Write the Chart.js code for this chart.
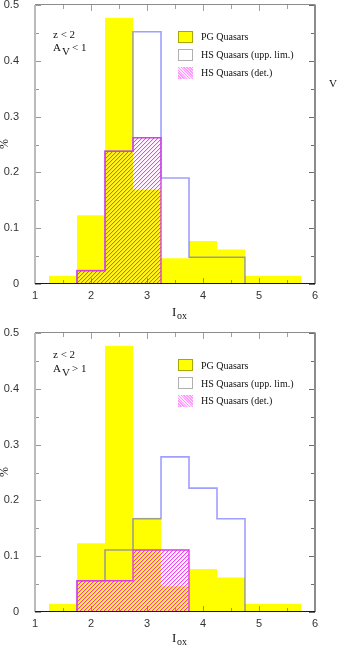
<!DOCTYPE html>
<html>
<head>
<meta charset="utf-8">
<script src="https://cdn.jsdelivr.net/npm/chart.js@4/dist/chart.umd.min.js"></script>
<style>
  html, body { margin:0; padding:0; background:#fff; }
  #page { position:relative; width:339px; height:647px; overflow:hidden; background:#fff; }
  canvas { position:absolute; left:0; }
  .t { position:absolute; font-family:"Liberation Serif", "DejaVu Serif", serif; color:#111; white-space:nowrap; }
  .lg { font-size:10px; line-height:12px; }
  .box { position:absolute; width:15px; height:12px; box-sizing:border-box; }
</style>
</head>
<body>
<div id="page">
  <canvas id="c1" width="339" height="323" style="top:0px"></canvas>
  <canvas id="c2" width="339" height="324" style="top:323px"></canvas>

  <!-- top panel texts -->
  <div class="t" style="left:53px;top:29px;font-size:11px;line-height:11px">z &lt; 2</div>
  <div class="t" style="left:53px;top:42px;font-size:11px;line-height:11px">A</div>
  <div class="t" style="left:62px;top:46px;font-size:11px;line-height:11px">V</div>
  <div class="t" style="left:72px;top:42px;font-size:11px;line-height:11px">&lt; 1</div>
  <div class="box" style="left:178px;top:31px;background:#ffff00;border:1px solid #a8a800"></div>
  <div class="box" style="left:178px;top:49px;background:#fff;border:1px solid #b0b0b0"></div>
  <div class="box" style="left:178px;top:67px;background:repeating-linear-gradient(45deg,#ff99ff 0 1px,#ffe6ff 1px 2px)"></div>
  <div class="t lg" style="left:201px;top:31px">PG Quasars</div>
  <div class="t lg" style="left:201px;top:49px">HS Quasars (upp. lim.)</div>
  <div class="t lg" style="left:201px;top:67px">HS Quasars (det.)</div>
  <div class="t" style="left:329px;top:78px;font-size:11px;line-height:11px">V</div>
  <div class="t" style="left:-1px;top:138px;font-size:12px;line-height:12px;transform:rotate(-90deg)">%</div>
  <div class="t" style="left:172px;top:305px;font-size:13px;line-height:13px">I</div>
  <div class="t" style="left:177px;top:311px;font-size:10px;line-height:10px">ox</div>

  <!-- bottom panel texts -->
  <div class="t" style="left:53px;top:349px;font-size:11px;line-height:11px">z &lt; 2</div>
  <div class="t" style="left:53px;top:363px;font-size:11px;line-height:11px">A</div>
  <div class="t" style="left:62px;top:367px;font-size:11px;line-height:11px">V</div>
  <div class="t" style="left:72px;top:363px;font-size:11px;line-height:11px">&gt; 1</div>
  <div class="box" style="left:178px;top:359px;background:#ffff00;border:1px solid #a8a800"></div>
  <div class="box" style="left:178px;top:377px;background:#fff;border:1px solid #b0b0b0"></div>
  <div class="box" style="left:178px;top:395px;background:repeating-linear-gradient(45deg,#ff99ff 0 1px,#ffe6ff 1px 2px)"></div>
  <div class="t lg" style="left:201px;top:360px">PG Quasars</div>
  <div class="t lg" style="left:201px;top:378px">HS Quasars (upp. lim.)</div>
  <div class="t lg" style="left:201px;top:395px">HS Quasars (det.)</div>
  <div class="t" style="left:-1px;top:466px;font-size:12px;line-height:12px;transform:rotate(-90deg)">%</div>
  <div class="t" style="left:172px;top:631px;font-size:13px;line-height:13px">I</div>
  <div class="t" style="left:177px;top:637px;font-size:10px;line-height:10px">ox</div>
</div>

<script>
// ---------------- data ----------------
const binWidth = 0.5;
const pgCenters = [1.5, 2.0, 2.5, 3.0, 3.5, 4.0, 4.5, 5.0, 5.5];
const pgValues  = [0.015, 0.123, 0.477, 0.169, 0.046, 0.077, 0.062, 0.015, 0.015];

// top panel (A_V < 1)
const topUppCenters = [2.0, 2.5, 3.0, 3.5, 4.0, 4.5];
const topUppValues  = [0.024, 0.238, 0.452, 0.190, 0.048, 0.048];
const topDetCenters = [2.0, 2.5, 3.0];
const topDetValues  = [0.024, 0.238, 0.262];

// bottom panel (A_V > 1)
const botUppCenters = [2.0, 2.5, 3.0, 3.5, 4.0, 4.5];
const botUppValues  = [0.056, 0.111, 0.167, 0.278, 0.222, 0.167];
const botDetCenters = [2.0, 2.5, 3.0, 3.5];
const botDetValues  = [0.056, 0.056, 0.111, 0.111];

const xTicks = [1, 2, 3, 4, 5, 6];
const yTicks = [0, 0.1, 0.2, 0.3, 0.4, 0.5];

// ---------------- helpers ----------------
function histSteps(centers, values) {
  const pts = [];
  const first = centers[0] - binWidth / 2;
  pts.push({x: first, y: 0});
  centers.forEach((c, i) => pts.push({x: c - binWidth / 2, y: values[i]}));
  const last = centers[centers.length - 1] + binWidth / 2;
  pts.push({x: last, y: values[values.length - 1]});
  pts.push({x: last, y: 0});
  return pts;
}

function hatchPattern() {
  const n = 4;
  const c = document.createElement('canvas');
  c.width = n; c.height = n;
  const g = c.getContext('2d');
  const img = g.createImageData(n, n);
  for (let yy = 0; yy < n; yy++) {
    for (let xx = 0; xx < n; xx++) {
      const d = (xx + yy) % n;
      let a = 0;
      if (d === n - 1) a = 200;
      else if (d === 0) a = 40;
      const k = (yy * n + xx) * 4;
      img.data[k] = 255; img.data[k + 1] = 0; img.data[k + 2] = 255; img.data[k + 3] = a;
    }
  }
  g.putImageData(img, 0, 0);
  return g.createPattern(c, 'repeat');
}

const framePlugin = {
  id: 'frame',
  afterDatasetsDraw(chart) {
    const ctx = chart.ctx;
    const {left, right, top, bottom} = chart.chartArea;
    const xs = chart.scales.x, ys = chart.scales.y;
    ctx.save();
    ctx.lineWidth = 1;
    function seg(x1, y1, x2, y2, col) {
      ctx.strokeStyle = col;
      ctx.beginPath(); ctx.moveTo(x1, y1); ctx.lineTo(x2, y2); ctx.stroke();
    }
    for (let i = 0; i <= 10; i++) {
      const v = xTicks[0] + i * 0.5;
      const px = Math.round(xs.getPixelForValue(v)) + 0.5;
      const len = (i % 2 === 0) ? 6 : 4;
      seg(px, bottom, px, bottom - len, 'rgba(90,90,90,0.6)');
      seg(px, top, px, top + len, 'rgba(120,120,120,0.7)');
    }
    for (let i = 0; i <= 10; i++) {
      const v = yTicks[0] + i * 0.05;
      const py = Math.round(ys.getPixelForValue(v)) + 0.5;
      const len = (i % 2 === 0) ? 6 : 4;
      seg(left, py, left + len, py, 'rgba(120,120,120,0.75)');
      seg(right, py, right - len, py, 'rgba(70,70,70,0.8)');
    }
    ctx.lineWidth = 2;
    seg(left, top, left, bottom, '#bbbbbb');
    seg(right, top - 0.5, right, bottom, '#8c8c8c');
    ctx.lineWidth = 1;
    seg(left, Math.round(top) - 0.5, right, Math.round(top) - 0.5, '#8c8c8c');
    seg(left, Math.round(bottom) - 0.5, right, Math.round(bottom) - 0.5, '#3a0050');
    ctx.restore();
  }
};

function makeChart(id, uppC, uppV, detC, detV, padTop, xHeight) {
  const pattern = hatchPattern();
  return new Chart(document.getElementById(id), {
    type: 'line',
    data: {
      datasets: [
        {
          data: histSteps(detC, detV),
          stepped: true,
          fill: 'origin',
          backgroundColor: pattern,
          borderColor: '#d83ee6',
          borderWidth: 1.4,
          pointRadius: 0
        },
        {
          data: histSteps(uppC, uppV),
          stepped: true,
          fill: false,
          borderColor: 'rgba(80,80,250,0.55)',
          borderWidth: 1.6,
          pointRadius: 0
        },
        {
          data: histSteps(pgCenters, pgValues),
          stepped: true,
          fill: 'origin',
          backgroundColor: '#ffff00',
          borderColor: '#ffff00',
          borderWidth: 0,
          pointRadius: 0
        }
      ]
    },
    options: {
      responsive: false,
      animation: false,
      devicePixelRatio: 1,
      layout: { padding: { top: padTop, right: 24, left: 0, bottom: 0 } },
      plugins: { legend: { display: false }, tooltip: { enabled: false } },
      scales: {
        x: {
          type: 'linear', min: xTicks[0], max: xTicks[xTicks.length - 1],
          afterBuildTicks(s) { s.ticks = xTicks.map(v => ({value: v})); },
          ticks: { padding: -3, color: '#333', font: { family: 'Liberation Sans', size: 11 }, maxRotation: 0 },
          grid: { display: false }, border: { display: false },
          afterFit(s) { s.height = xHeight; s.paddingLeft = 0; s.paddingRight = 0; }
        },
        y: {
          type: 'linear', min: yTicks[0], max: yTicks[yTicks.length - 1],
          afterBuildTicks(s) { s.ticks = yTicks.map(v => ({value: v})); },
          ticks: { padding: 8, color: '#333', font: { family: 'Liberation Sans', size: 11 },
                   callback: v => String(Math.round(v * 10) / 10) },
          grid: { display: false }, border: { display: false },
          afterFit(s) { s.width = 35; s.paddingTop = 0; s.paddingBottom = 0; }
        }
      }
    },
    plugins: [framePlugin]
  });
}

makeChart('c1', topUppCenters, topUppValues, topDetCenters, topDetValues, 5, 39);
makeChart('c2', botUppCenters, botUppValues, botDetCenters, botDetValues, 10, 35);
</script>
</body>
</html>
